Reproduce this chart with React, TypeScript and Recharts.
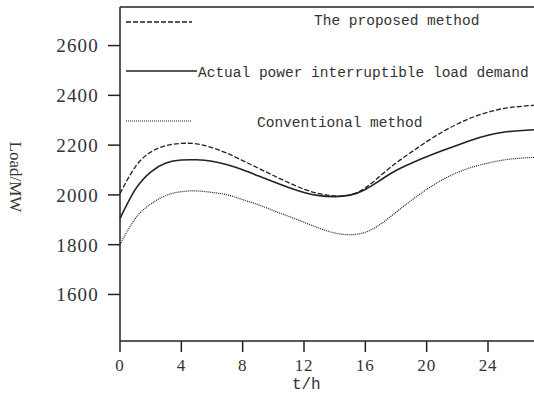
import { LineChart, Line, XAxis, YAxis, Legend, ReferenceLine } from 'recharts';

// hours on the x axis
const hours = [0, 1, 2, 3, 4, 5, 6, 7, 8, 9, 10, 11, 12, 13, 14, 15, 16, 17, 18, 19, 20, 21, 22, 23, 24, 25, 26, 27];

// load, MW
const proposed = [2005, 2113, 2172, 2198, 2207, 2205, 2190, 2167, 2138, 2108, 2078, 2049, 2023, 2005, 1996, 2000, 2028, 2078, 2128, 2172, 2214, 2252, 2285, 2312, 2332, 2347, 2355, 2360];
const actual = [1905, 2022, 2092, 2128, 2140, 2141, 2135, 2121, 2101, 2077, 2053, 2030, 2010, 1997, 1993, 1999, 2022, 2060, 2098, 2127, 2153, 2177, 2200, 2222, 2240, 2252, 2258, 2262];
const conventional = [1800, 1905, 1963, 1998, 2013, 2016, 2010, 2000, 1981, 1961, 1937, 1914, 1890, 1866, 1847, 1840, 1850, 1883, 1930, 1978, 2022, 2060, 2090, 2112, 2128, 2140, 2147, 2151];

const xTicks = [0, 4, 8, 12, 16, 20, 24];
const yTicks = [1600, 1800, 2000, 2200, 2400, 2600];
const seriesNames = ['The proposed method', 'Actual power interruptible load demand', 'Conventional method'];

const X_MAX = 27;
const Y_MIN = 1413;
const Y_MAX = 2755;

const data = hours.map((t, i) => ({
  t,
  proposed: proposed[i],
  actual: actual[i],
  conventional: conventional[i],
}));

const INK = '#222';
const SERIF = "'Liberation Serif', serif";
const MONO = "'Liberation Mono', monospace";

// line styles + where each legend row sits (relative to the plot's left edge)
const series = [
  { key: 'proposed', name: seriesNames[0], dash: '5 2', width: 1.3, lineEnd: 72, lineY: 22, textX: 194, textY: 25 },
  { key: 'actual', name: seriesNames[1], dash: undefined, width: 1.6, lineEnd: 77, lineY: 71, textX: 78, textY: 77 },
  { key: 'conventional', name: seriesNames[2], dash: '1 1', width: 1.2, lineEnd: 72, lineY: 121, textX: 137, textY: 127 },
];

function LegendBox() {
  return (
    <svg width={414} height={135} style={{ display: 'block' }}>
      {series.map((s) => (
        <g key={s.key}>
          <line x1={6} x2={s.lineEnd} y1={s.lineY} y2={s.lineY} stroke={INK} strokeWidth={s.width} strokeDasharray={s.dash} />
          <text x={s.textX} y={s.textY} fontFamily={MONO} fontSize={14.5} fill="#333">
            {s.name}
          </text>
        </g>
      ))}
    </svg>
  );
}

const renderYTick = (props: any) => (
  <text key={`y-${props.payload.value}`} x={props.x} y={props.y} dy="0.36em" textAnchor="end"
    fontFamily={SERIF} fontSize={19} letterSpacing={1.2} fill="#333">
    {props.payload.value}
  </text>
);

const renderXTick = (props: any) => (
  <text key={`x-${props.payload.value}`} x={props.x} y={props.y} dy="0.71em" textAnchor="middle"
    fontFamily={SERIF} fontSize={17} letterSpacing={0.8} fill="#333">
    {props.payload.value}
  </text>
);

const YLabel = (props: any) => {
  const { viewBox } = props;
  const x = viewBox.x + 15;
  const y = viewBox.y + viewBox.height / 2 + 3;
  return (
    <text x={x} y={y} transform={`rotate(90, ${x}, ${y})`} textAnchor="middle" dominantBaseline="central"
      fontFamily={SERIF} fontSize={17} fill="#333">
      Load/MW
    </text>
  );
};

const XLabel = (props: any) => {
  const { viewBox } = props;
  const x = viewBox.x + (viewBox.width * 12.15) / X_MAX;
  return (
    <text x={x} y={viewBox.y + 48} textAnchor="middle" fontFamily={MONO} fontSize={16} fill="#333">
      t/h
    </text>
  );
};

export default function App() {
  return (
    <div style={{ position: 'absolute', left: 0, top: 0, width: 534, height: 403, background: '#fff' }}>
      <LineChart width={534} height={403} data={data} margin={{ top: 7, right: 0, bottom: 0, left: 0 }}>
        <XAxis
          dataKey="t"
          type="number"
          domain={[0, X_MAX]}
          ticks={xTicks}
          height={62}
          tickSize={11}
          tickMargin={7}
          axisLine={{ stroke: INK, strokeWidth: 1.5 }}
          tickLine={{ stroke: INK, strokeWidth: 1.5 }}
          tick={renderXTick}
          label={<XLabel />}
        />
        <YAxis
          type="number"
          domain={[Y_MIN, Y_MAX]}
          ticks={yTicks}
          width={120}
          tickSize={12}
          tickMargin={9}
          allowDataOverflow
          axisLine={{ stroke: INK, strokeWidth: 1.5 }}
          tickLine={{ stroke: INK, strokeWidth: 1.5 }}
          tick={renderYTick}
          label={<YLabel />}
        />
        <ReferenceLine y={Y_MAX} stroke={INK} strokeWidth={1.5} />
        <Legend
          layout="horizontal"
          verticalAlign="middle"
          align="center"
          content={() => <LegendBox />}
          wrapperStyle={{ position: 'absolute', left: 120, top: 0, width: 414, height: 135 }}
        />
        {series.map((s) => (
          <Line
            key={s.key}
            type="natural"
            dataKey={s.key}
            name={s.name}
            stroke={INK}
            strokeWidth={s.width}
            strokeDasharray={s.dash}
            dot={false}
            activeDot={false}
            isAnimationActive={false}
          />
        ))}
      </LineChart>
    </div>
  );
}
